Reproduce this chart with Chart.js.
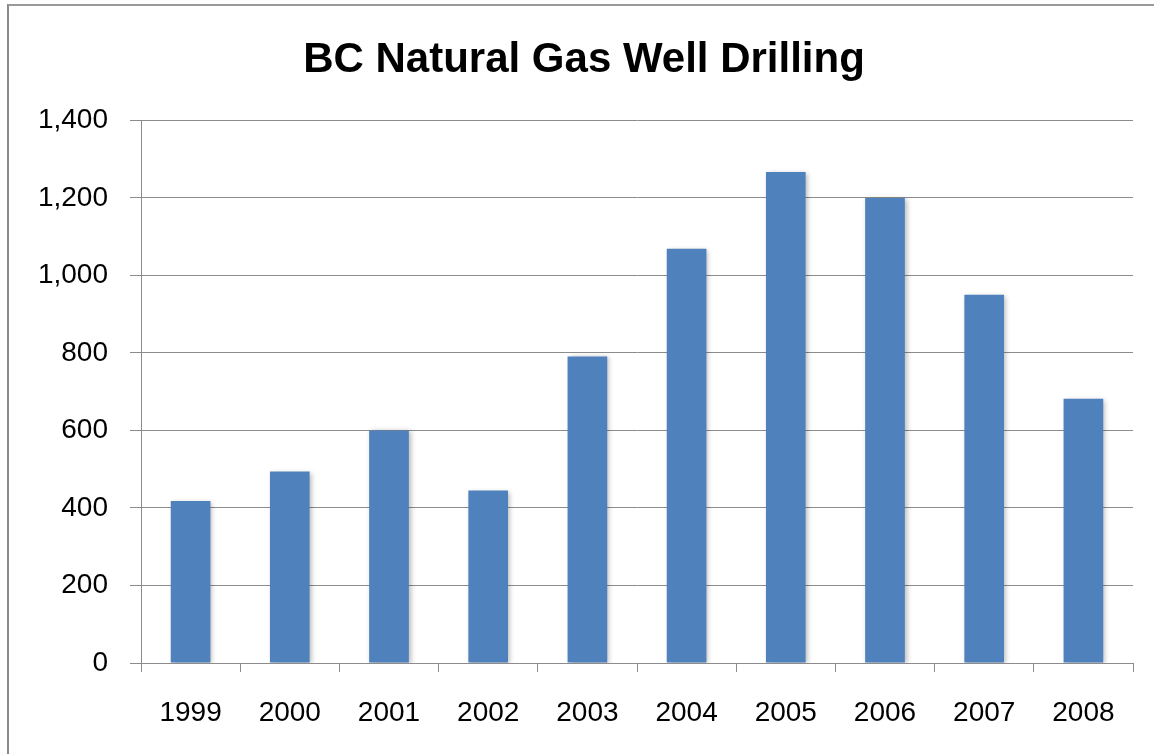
<!DOCTYPE html>
<html>
<head>
<meta charset="utf-8">
<script src="https://cdn.jsdelivr.net/npm/chart.js@4.4.1/dist/chart.umd.min.js"></script>
<style>
  html, body { margin: 0; padding: 0; background: #ffffff; }
  #wrap { position: absolute; left: 0; top: 0; width: 1154px; height: 754px; }
  #frame { position: absolute; left: 7px; top: 4px; width: 1160px; height: 760px;
           border-left: 2px solid #8a8a8a; border-top: 2px solid #9a9a9a; }
  canvas { position: absolute; left: 0; top: 0; }
</style>
</head>
<body>
<div id="wrap">
  <div id="frame"></div>
  <canvas id="c" width="1154" height="754"></canvas>
</div>
<script>
const titleText = "BC Natural Gas Well Drilling";
const years = ["1999", "2000", "2001", "2002", "2003", "2004", "2005", "2006", "2007", "2008"];
const wells = [418, 494, 600, 445, 791, 1069, 1267, 1200, 950, 682];
const yTicks = [0, 200, 400, 600, 800, 1000, 1200, 1400];

const shadowPlugin = {
  id: 'barShadow',
  beforeDatasetsDraw(chart) {
    const ctx = chart.ctx;
    ctx.save();
    ctx.shadowColor = 'rgba(0,0,0,0.28)';
    ctx.shadowBlur = 5;
    ctx.shadowOffsetX = 2;
    ctx.shadowOffsetY = 1;
  },
  afterDatasetsDraw(chart) {
    chart.ctx.restore();
  }
};

new Chart(document.getElementById('c'), {
  type: 'bar',
  data: {
    labels: years,
    datasets: [{
      data: wells,
      backgroundColor: '#4F81BD',
      borderWidth: 0,
      barPercentage: 0.4,
      categoryPercentage: 1.0
    }]
  },
  plugins: [shadowPlugin],
  options: {
    responsive: false,
    animation: false,
    layout: { padding: { left: 35, right: 21, top: 0, bottom: 0 } },
    plugins: {
      legend: { display: false },
      tooltip: { enabled: false },
      title: {
        display: true,
        text: titleText,
        color: '#000000',
        font: { family: 'Liberation Sans', size: 42, weight: 'bold', lineHeight: 1.2 },
        padding: { top: 35, bottom: 35 }
      }
    },
    scales: {
      x: {
        offset: true,
        grid: {
          display: true,
          offset: true,
          drawOnChartArea: false,
          drawTicks: true,
          tickLength: 9,
          color: '#8c8c8c',
          lineWidth: 1
        },
        border: { display: true, color: '#8c8c8c', width: 1 },
        ticks: {
          color: '#000000',
          font: { family: 'Liberation Sans', size: 28, lineHeight: 1.2 },
          padding: 24,
          maxRotation: 0,
          autoSkip: false
        },
        afterFit(scale) { scale.height = 91; }
      },
      y: {
        min: 0,
        max: 1400,
        afterBuildTicks(scale) { scale.ticks = yTicks.map(v => ({ value: v })); },
        grid: {
          color: '#8c8c8c',
          lineWidth: 1,
          drawTicks: true,
          tickLength: 11
        },
        border: { display: true, color: '#8c8c8c', width: 1 },
        ticks: {
          color: '#000000',
          font: { family: 'Liberation Sans', size: 28, lineHeight: 1.2 },
          padding: 22,
          callback: (v) => v.toLocaleString('en-US')
        },
        afterFit(scale) { scale.width = 106; }
      }
    }
  }
});
</script>
</body>
</html>
